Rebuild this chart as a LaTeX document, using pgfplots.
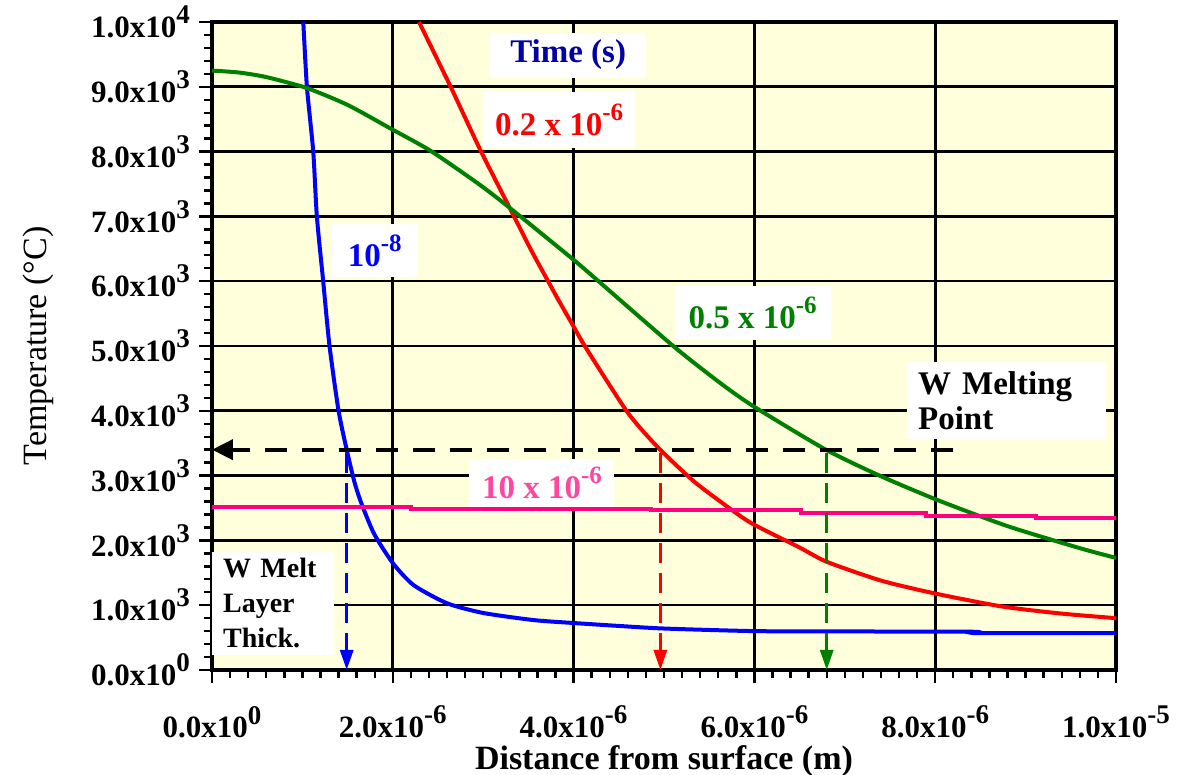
\documentclass[border=0pt]{standalone}
\usepackage{pgfplots}
\pgfplotsset{compat=1.18}
\usepackage{fontspec}
\setmainfont{Liberation Serif}
\usetikzlibrary{arrows.meta}
\definecolor{bgy}{RGB}{255,255,220}
\definecolor{cgreen}{RGB}{0,128,0}
\definecolor{cpink}{RGB}{255,0,128}
\definecolor{tpink}{RGB}{255,70,160}
\definecolor{tblue}{RGB}{0,0,165}
\newcommand\tl[2]{#1x10\raisebox{0.45em}{\fontsize{13.5}{13.5}\selectfont #2}}
\newcommand\an[2]{#1\raisebox{0.45em}{\fontsize{12.5}{12.5}\selectfont #2}}
\begin{document}
\begin{tikzpicture}
\begin{axis}[
  scale only axis, width=452pt, height=324pt,
  xmin=0, xmax=10, ymin=0, ymax=10000,
  axis background/.style={fill=bgy},
  axis line style={line width=1.8pt},
  xtick={0,2,4,6,8,10}, ytick={0,1000,2000,3000,4000,5000,6000,7000,8000,9000,10000},
  minor x tick num=9, minor y tick num=4,
  scaled ticks=false,
  xticklabels={\tl{0.0}{0},\tl{2.0}{-6},\tl{4.0}{-6},\tl{6.0}{-6},\tl{8.0}{-6},\tl{1.0}{-5}},
  yticklabels={\tl{0.0}{0},\tl{1.0}{3},\tl{2.0}{3},\tl{3.0}{3},\tl{4.0}{3},\tl{5.0}{3},\tl{6.0}{3},\tl{7.0}{3},\tl{8.0}{3},\tl{9.0}{3},\tl{1.0}{4}},
  tick align=outside, tick pos=left,
  major tick length=6.5pt, minor tick length=4pt,
  every tick/.style={black, line width=1.2pt},
  grid=major, major grid style={black, line width=1.3pt},
  tick label style={font=\fontsize{15.5}{15.5}\selectfont\bfseries},
  xticklabel style={yshift=-8pt},
  yticklabel style={xshift=-1pt},
  xlabel={Distance from surface (m)},
  ylabel={Temperature (°C)},
  xlabel style={at={(axis description cs:0.5,-0.1543)}, anchor=base, font=\fontsize{17}{17}\selectfont\bfseries},
  ylabel style={at={(axis description cs:-0.1826,0.5)}, anchor=base, font=\fontsize{17}{17}\selectfont},
]
% 1e-8 s
\addplot[blue, line width=2pt, smooth, tension=0.4] coordinates {
(1.01,10000)(1.05,9000)(1.12,8000)(1.16,7000)(1.23,6000)(1.30,5000)(1.40,4000)(1.49,3400)(1.57,2930)(1.64,2620)(1.79,2110)(2.0,1650)(2.23,1310)(2.6,1030)(3.0,880)(3.56,770)(4.0,725)(4.5,680)(5.0,640)(6.0,600)(7.0,595)(8.44,590)(8.45,570)(10,570)};
% 0.2e-6 s
\addplot[red, line width=2pt, smooth, tension=0.4] coordinates {
(2.29,10000)(2.64,9000)(2.97,8020)(3.33,7030)(3.53,6480)(3.71,6020)(3.82,5740)(4.0,5300)(4.15,4940)(4.6,3970)(4.93,3440)(5.34,2900)(5.8,2420)(6.0,2240)(6.5,1890)(6.8,1670)(7.4,1380)(8.0,1180)(8.74,980)(9.4,870)(10,800)};
% 0.5e-6 s
\addplot[cgreen, line width=2pt, smooth, tension=0.4] coordinates {
(0,9250)(0.3,9220)(0.6,9150)(1.05,8980)(1.5,8720)(1.97,8360)(2.42,8010)(2.97,7480)(3.34,7080)(4.0,6330)(4.3,5970)(5.11,4990)(5.63,4420)(6.0,4060)(6.79,3400)(7.4,2990)(8.03,2620)(8.8,2220)(9.6,1880)(10,1730)};
% 10e-6 s
\addplot[cpink, line width=2pt, const plot] coordinates {
(0,2520)(2.2,2490)(4.86,2470)(6.52,2420)(7.9,2380)(9.12,2340)(10,2340)};
% melting point and thicknesses
\addplot[black, line width=2pt, dash pattern=on 11pt off 7.5pt, -{Triangle[length=10.5pt,width=10pt]}] coordinates {(8.2,3400)(0,3400)};
\addplot[blue, line width=1.5pt, dash pattern=on 10pt off 5pt, -{Triangle[length=10pt,width=6.5pt]}] coordinates {(1.49,3350)(1.49,0)};
\addplot[red, line width=1.5pt, dash pattern=on 10pt off 5pt, -{Triangle[length=10pt,width=6.5pt]}] coordinates {(4.96,3350)(4.96,0)};
\addplot[cgreen, line width=1.5pt, dash pattern=on 10pt off 5pt, -{Triangle[length=10pt,width=6.5pt]}] coordinates {(6.8,3350)(6.8,0)};
% annotations
\node[fill=white, inner sep=0pt, minimum width=78pt, minimum height=22.5pt, text=tblue, font=\fontsize{16.5}{16.5}\selectfont\bfseries] at (axis cs:3.94,9490) {Time (s)};
\node[fill=white, inner sep=0pt, minimum width=76pt, minimum height=28pt, text=red, font=\fontsize{16.5}{16.5}\selectfont\bfseries] at (axis cs:3.84,8490) {0.2 x \an{10}{-6}};
\node[fill=white, inner sep=0pt, minimum width=43pt, minimum height=26.5pt, text=blue, font=\fontsize{16.5}{16.5}\selectfont\bfseries] at (axis cs:1.80,6470) {\an{10}{-8}};
\node[fill=white, inner sep=0pt, minimum width=78pt, minimum height=27pt, text=cgreen, font=\fontsize{16.5}{16.5}\selectfont\bfseries] at (axis cs:5.98,5510) {0.5 x \an{10}{-6}};
\node[fill=white, inner xsep=5.5pt, inner ysep=0pt, text width=88.5pt, minimum height=38.5pt, align=left, font=\fontsize{16.5}{17.5}\selectfont\bfseries] at (axis cs:8.79,4160) {W Melting\\Point};
\node[fill=white, inner sep=0pt, minimum width=72.5pt, minimum height=24pt, text=tpink, font=\fontsize{16.5}{16.5}\selectfont\bfseries] at (axis cs:3.65,2890) {10 x \an{10}{-6}};
\node[fill=white, inner xsep=5.5pt, inner ysep=0pt, text width=50pt, minimum height=51.5pt, align=left, font=\fontsize{14}{17.5}\selectfont\bfseries] at (axis cs:0.676,1030) {W Melt\\Layer\\Thick.};
\end{axis}
\pgfresetboundingbox
\path ([xshift=-106pt,yshift=-52.5pt]current axis.south west) rectangle ([xshift=33pt,yshift=11pt]current axis.north east);
\end{tikzpicture}
\end{document}
